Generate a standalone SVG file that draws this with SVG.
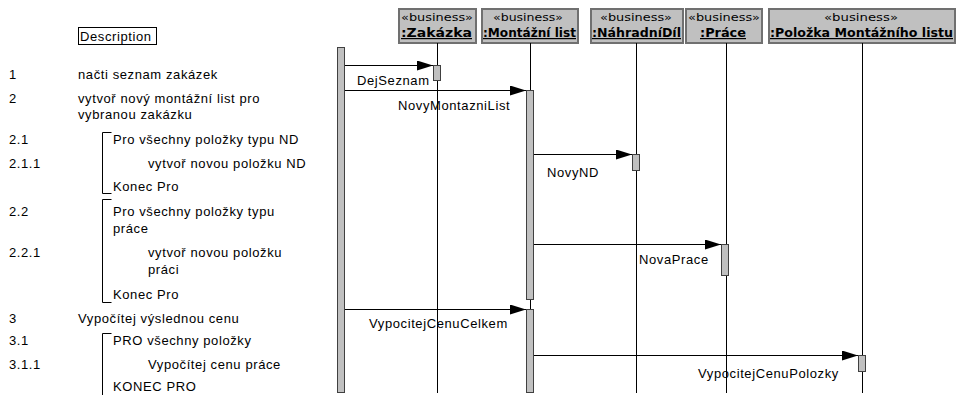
<svg xmlns="http://www.w3.org/2000/svg" width="958" height="395" viewBox="0 0 958 395">
<style>
text{font-family:"Liberation Sans",Arial,sans-serif;font-size:13px;fill:#000;letter-spacing:0.6px}
.st{font-family:"DejaVu Sans",sans-serif;font-size:11px;letter-spacing:0}
.nm{font-family:"DejaVu Sans",sans-serif;font-size:12px;font-weight:bold;text-decoration:underline;letter-spacing:0}
.hd{fill:#c0c0c0;stroke:#707070;stroke-width:2}
.act{fill:#c0c0c0;stroke:#404040;stroke-width:1}
.ll{stroke:#000;stroke-width:1}
.msg{stroke:#000;stroke-width:1;fill:none;marker-end:url(#ah)}
.br{stroke:#000;stroke-width:1;fill:none}
</style>
<defs>
<marker id="ah" markerWidth="16" markerHeight="10" refX="16" refY="5" orient="auto" markerUnits="userSpaceOnUse">
<path d="M0,0 L16,5 L0,10 z" fill="#000"/>
</marker>
</defs>
<g id="description">
<rect x="78.5" y="27.5" width="78" height="17" fill="#fff" stroke="#000"/>
<text x="80" y="41">Description</text>
</g>
<g id="steps">
<text x="9" y="79">1</text><text x="78" y="79">načti seznam zakázek</text>
<text x="9" y="103">2</text><text x="78" y="103">vytvoř nový montážní list pro</text>
<text x="78" y="119">vybranou zakázku</text>
<text x="9" y="144">2.1</text><text x="113" y="144">Pro všechny položky typu ND</text>
<text x="9" y="168">2.1.1</text><text x="148" y="168">vytvoř novou položku ND</text>
<text x="113" y="191">Konec Pro</text>
<text x="9" y="216">2.2</text><text x="113" y="216">Pro všechny položky typu</text>
<text x="113" y="233">práce</text>
<text x="9" y="257">2.2.1</text><text x="148" y="257">vytvoř novou položku</text>
<text x="148" y="274">práci</text>
<text x="113" y="299">Konec Pro</text>
<text x="9" y="323">3</text><text x="78" y="323">Vypočítej výslednou cenu</text>
<text x="9" y="345">3.1</text><text x="113" y="345">PRO všechny položky</text>
<text x="9" y="369">3.1.1</text><text x="148" y="369">Vypočítej cenu práce</text>
<text x="113" y="391">KONEC PRO</text>
<path class="br" d="M111.5,132.5 H102.5 V193.5 H111.5"/>
<path class="br" d="M111.5,199.5 H102.5 V302.5 H111.5"/>
<path class="br" d="M111.5,333.5 H102.5 V395"/>
</g>
<g id="actor">
<rect class="act" x="337.5" y="47.5" width="7" height="345"/>
</g>
<g id="zakazka">
<rect class="hd" x="399" y="9" width="77" height="34"/>
<text class="st" x="401" y="21" textLength="72" lengthAdjust="spacingAndGlyphs">«business»</text>
<text class="nm" x="401" y="37" textLength="71" lengthAdjust="spacingAndGlyphs">:Zakázka</text>
<line class="ll" x1="437.5" y1="43" x2="437.5" y2="393"/>
<rect class="act" x="433.5" y="65.5" width="7" height="15"/>
</g>
<g id="montazni-list">
<rect class="hd" x="482" y="9" width="96" height="34"/>
<text class="st" x="493" y="21" textLength="70" lengthAdjust="spacingAndGlyphs">«business»</text>
<text class="nm" x="483" y="37" textLength="93" lengthAdjust="spacingAndGlyphs">:Montážní list</text>
<line class="ll" x1="530.5" y1="43" x2="530.5" y2="393"/>
<rect class="act" x="526.5" y="90.5" width="7" height="209"/>
<rect class="act" x="526.5" y="309.5" width="7" height="83"/>
</g>
<g id="nahradni-dil">
<rect class="hd" x="591" y="9" width="92" height="34"/>
<text class="st" x="600" y="21" textLength="72" lengthAdjust="spacingAndGlyphs">«business»</text>
<text class="nm" x="592" y="37" textLength="89" lengthAdjust="spacingAndGlyphs">:NáhradníDíl</text>
<line class="ll" x1="636.5" y1="43" x2="636.5" y2="393"/>
<rect class="act" x="632.5" y="154.5" width="7" height="16"/>
</g>
<g id="prace">
<rect class="hd" x="686" y="9" width="76" height="34"/>
<text class="st" x="688" y="21" textLength="72" lengthAdjust="spacingAndGlyphs">«business»</text>
<text class="nm" x="700" y="37" textLength="46" lengthAdjust="spacingAndGlyphs">:Práce</text>
<line class="ll" x1="726.5" y1="43" x2="726.5" y2="393"/>
<rect class="act" x="721.5" y="244.5" width="7" height="31"/>
</g>
<g id="polozka">
<rect class="hd" x="769" y="9" width="186" height="34"/>
<text class="st" x="824" y="21" textLength="74" lengthAdjust="spacingAndGlyphs">«business»</text>
<text class="nm" x="770" y="37" textLength="183" lengthAdjust="spacingAndGlyphs">:Položka Montážního listu</text>
<line class="ll" x1="862.5" y1="43" x2="862.5" y2="393"/>
<rect class="act" x="858.5" y="355.5" width="7" height="16"/>
</g>
<g id="connectors">
<line class="msg" x1="345" y1="65.5" x2="433" y2="65.5"/>
<text x="357" y="85">DejSeznam</text>
<line class="msg" x1="345" y1="90.5" x2="526" y2="90.5"/>
<text x="398" y="110">NovyMontazniList</text>
<line class="msg" x1="534" y1="154.5" x2="632" y2="154.5"/>
<text x="547" y="177">NovyND</text>
<line class="msg" x1="534" y1="244.5" x2="721" y2="244.5"/>
<text x="639" y="264">NovaPrace</text>
<line class="msg" x1="345" y1="309.5" x2="526" y2="309.5"/>
<text x="369" y="328">VypocitejCenuCelkem</text>
<line class="msg" x1="534" y1="355.5" x2="858" y2="355.5"/>
<text x="698" y="378">VypocitejCenuPolozky</text>
</g>
</svg>
